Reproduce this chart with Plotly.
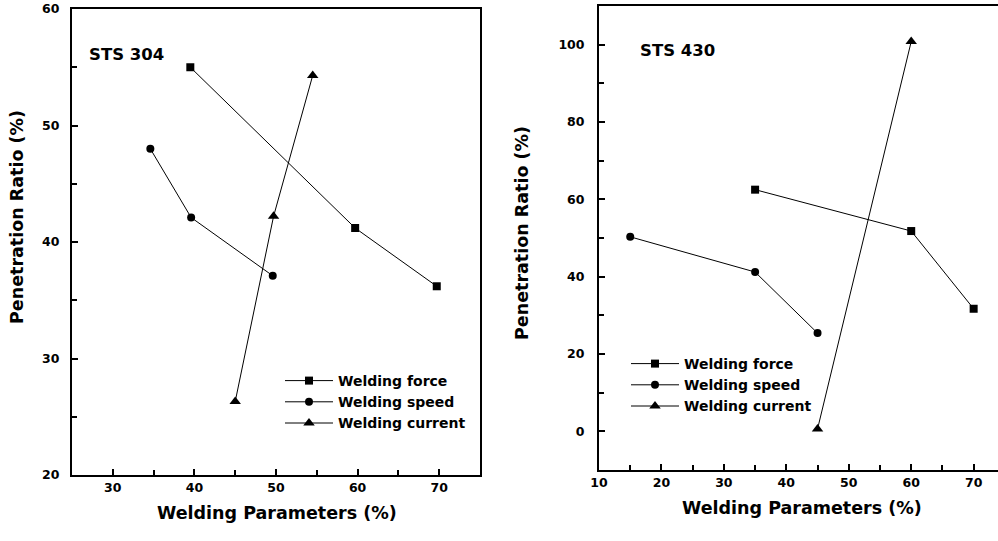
import plotly.graph_objects as go

# ---- data: STS 304 (left) ----
l_force_x = [39.5, 59.7, 69.7]
l_force_y = [55.0, 41.2, 36.2]
l_speed_x = [34.6, 39.6, 49.6]
l_speed_y = [48.0, 42.1, 37.1]
l_curr_x = [45.0, 49.7, 54.5]
l_curr_y = [26.3, 42.2, 54.3]

# ---- data: STS 430 (right) ----
r_force_x = [35.0, 60.0, 70.0]
r_force_y = [62.5, 51.8, 31.7]
r_speed_x = [15.0, 35.0, 45.0]
r_speed_y = [50.3, 41.2, 25.4]
r_curr_x = [45.0, 60.0]
r_curr_y = [0.6, 100.8]

names = ["Welding force", "Welding speed", "Welding current"]
symbols = ["square", "circle", "triangle-up"]
msizes = [8, 8, 10]

W, H = 998, 541
WIDE = "DejaVu Sans"

def px(x):
    return x / W

def py(y):
    return 1 - y / H

fig = go.Figure()

left = [(l_force_x, l_force_y), (l_speed_x, l_speed_y), (l_curr_x, l_curr_y)]
right = [(r_force_x, r_force_y), (r_speed_x, r_speed_y), (r_curr_x, r_curr_y)]

for i, (xs, ys) in enumerate(left):
    fig.add_trace(go.Scatter(
        x=xs, y=ys, mode="lines+markers", name=names[i],
        line=dict(color="black", width=1),
        marker=dict(symbol=symbols[i], size=msizes[i], color="black"),
        xaxis="x", yaxis="y", legend="legend"))

for i, (xs, ys) in enumerate(right):
    fig.add_trace(go.Scatter(
        x=xs, y=ys, mode="lines+markers", name=names[i],
        line=dict(color="black", width=1),
        marker=dict(symbol=symbols[i], size=msizes[i], color="black"),
        xaxis="x2", yaxis="y2", legend="legend2"))

tickfont = dict(family=WIDE, size=12.5, color="black", weight=700)
common = dict(showline=True, linecolor="black", linewidth=2, ticks="inside",
              ticklen=6, tickwidth=1.5, tickcolor="black", showgrid=False,
              zeroline=False, tickfont=tickfont, automargin=False)

legfont = dict(family=WIDE, size=14, color="black", weight=700)

fig.update_layout(
    width=W, height=H,
    margin=dict(l=0, r=0, t=0, b=0),
    paper_bgcolor="white", plot_bgcolor="white",
    showlegend=True,
    xaxis=dict(domain=[px(72), px(480)], range=[25, 75], tickvals=[30, 40, 50, 60, 70],
               anchor="y", mirror=True,
               minor=dict(ticks="inside", dtick=5, tick0=0, ticklen=5, tickcolor="black"),
               **common),
    yaxis=dict(domain=[py(475), py(9)], range=[20, 60], tickvals=[20, 30, 40, 50, 60],
               anchor="x", mirror=True, ticklabelstandoff=8,
               minor=dict(ticks="inside", dtick=5, tick0=0, ticklen=5, tickcolor="black"),
               **common),
    xaxis2=dict(domain=[px(599), 1.0], range=[10, 73.9], tickvals=[10, 20, 30, 40, 50, 60, 70],
                anchor="y2", mirror=True,
                minor=dict(ticks="inside", dtick=5, tick0=0, ticklen=5, tickcolor="black"),
                **common),
    yaxis2=dict(domain=[py(470), py(6)], range=[-10, 110], tickvals=[0, 20, 40, 60, 80, 100],
                anchor="x2", mirror=False, ticklabelstandoff=10,
                minor=dict(ticks="inside", dtick=10, tick0=0, ticklen=5, tickcolor="black"),
                **common),
    legend=dict(x=px(280), y=py(365), xanchor="left", yanchor="top",
                bgcolor="rgba(0,0,0,0)", itemwidth=48, tracegroupgap=0,
                font=legfont),
    legend2=dict(x=px(626), y=py(348), xanchor="left", yanchor="top",
                 bgcolor="rgba(0,0,0,0)", itemwidth=48, tracegroupgap=0,
                 font=legfont),
)

title_font = dict(family=WIDE, size=17.5, color="black", weight=700)

def note(x, y, text, font, angle=0):
    fig.add_annotation(x=px(x), y=py(y), xref="paper", yref="paper", showarrow=False,
                       xanchor="center", yanchor="middle", text=text, font=font,
                       textangle=angle)

note(277, 513, "Welding Parameters (%)", title_font)
note(17, 217, "Penetration Ratio (%)", title_font, -90)
note(802, 508, "Welding Parameters (%)", title_font)
note(522, 233, "Penetration Ratio (%)", title_font, -90)

label_font = dict(family=WIDE, size=16.5, color="black", weight=700)
note(127, 55, "STS 304", label_font)
note(677, 50, "STS 430", label_font)

fig.write_html("out.html", config={"displayModeBar": False},
               post_script="document.body.style.margin='0';")
